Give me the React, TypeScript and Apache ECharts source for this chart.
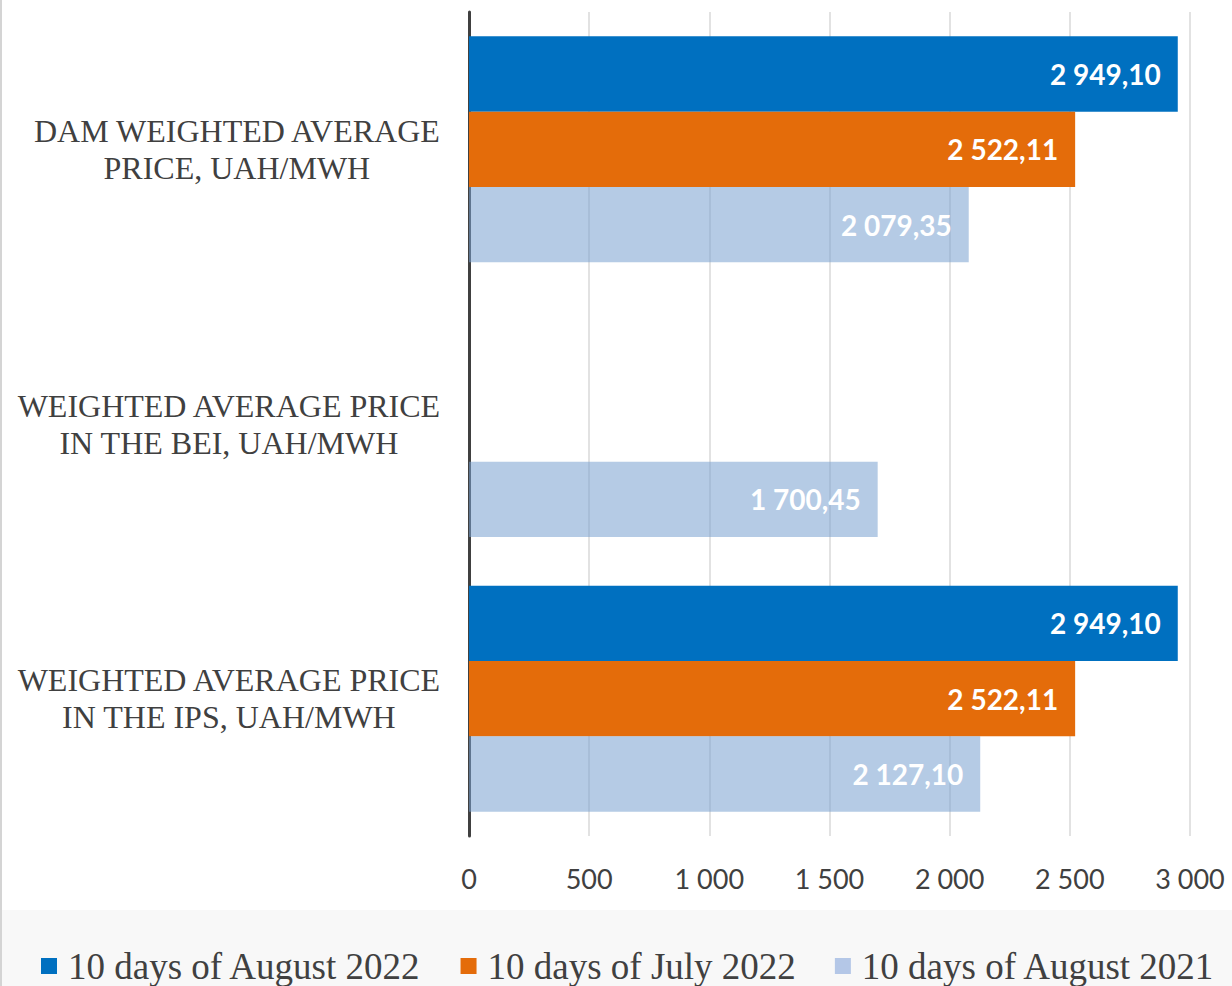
import React, { useEffect, useRef } from "react";
import * as echarts from "echarts";

const categories = [
  "DAM WEIGHTED AVERAGE\nPRICE, UAH/MWH",
  "WEIGHTED AVERAGE PRICE\nIN THE BEI, UAH/MWH",
  "WEIGHTED AVERAGE PRICE\nIN THE IPS, UAH/MWH",
];
const seriesNames = ["10 days of August 2022", "10 days of July 2022", "10 days of August 2021"];
const august2022 = [2949.1, null, 2949.1];
const july2022 = [2522.11, null, 2522.11];
const august2021 = [2079.35, 1700.45, 2127.1];
const xTicks = { min: 0, max: 3000, interval: 500 };

const colors = ["#0070c0", "#e46c0a", "rgba(120,160,208,0.55)"];
const legendColors = ["#0070c0", "#e46c0a", "#b4c7e7"];

function fmt(v: number, d: number) {
  const [i, f] = v.toFixed(d).split(".");
  const ii = i.replace(/\B(?=(\d{3})+(?!\d))/g, " ");
  return f ? ii + "," + f : ii;
}

export default function App() {
  const ref = useRef<HTMLDivElement>(null);
  useEffect(() => {
    document.body.style.margin = "0";
    const chart = echarts.init(ref.current!, null, { renderer: "svg" });
    const dataSets = [august2022, july2022, august2021];
    chart.setOption({
      animation: false,
      backgroundColor: "#ffffff",
      graphic: [
        { type: "rect", z: -10, shape: { x: 2, y: 910, width: 1230, height: 76 }, style: { fill: "#f8f8f8" } },
        { type: "rect", z: -10, shape: { x: 0, y: 0, width: 2, height: 986 }, style: { fill: "#d4d4d4" } },
      ],
      grid: { left: 469, right: 42, top: 12, bottom: 150, containLabel: false },
      legend: {
        left: 41,
        top: 947,
        padding: 0,
        itemWidth: 16,
        itemHeight: 16,
        itemGap: 39,
        icon: "rect",
        data: seriesNames.map((n, i) => ({ name: n, itemStyle: { color: legendColors[i] } })),
        textStyle: {
          fontFamily: "Liberation Serif",
          fontSize: 37,
          color: "#404040",
          lineHeight: 38,
          padding: [0, 0, 0, 6],
        },
      },
      xAxis: {
        type: "value",
        min: xTicks.min,
        max: xTicks.max,
        interval: xTicks.interval,
        axisLine: { show: false },
        axisTick: { show: false },
        splitLine: { show: true, lineStyle: { color: "#d9d9d9", width: 1.5 } },
        axisLabel: {
          margin: 29,
          fontFamily: "Lato",
          fontSize: 27,
          color: "#404040",
          formatter: (v: number) => fmt(v, 0),
        },
      },
      yAxis: {
        type: "category",
        inverse: true,
        data: categories,
        axisTick: { show: false },
        axisLine: { show: true, lineStyle: { color: "#404040", width: 3 } },
        axisLabel: {
          margin: 28,
          align: "right",
          fontFamily: "Liberation Serif",
          fontSize: 32,
          lineHeight: 37,
          color: "#404040",
          formatter: (v: string) =>
            v
              .split("\n")
              .map((l) => `{a|${l}}`)
              .join("\n"),
          rich: {
            a: {
              align: "center",
              fontFamily: "Liberation Serif",
              fontSize: 32,
              lineHeight: 37,
              color: "#404040",
            },
          },
        },
      },
      series: seriesNames.map((name, i) => ({
        name,
        type: "bar",
        data: dataSets[i],
        barGap: "0%",
        barCategoryGap: "17.7%",
        itemStyle: { color: colors[i] },
        label: {
          show: true,
          position: "insideRight",
          distance: 17,
          color: "#ffffff",
          fontFamily: "Lato",
          fontWeight: "bold",
          fontSize: 28,
          formatter: (p: any) => (p.value == null ? "" : fmt(p.value, 2)),
        },
      })),
    });
    return () => chart.dispose();
  }, []);
  return <div ref={ref} style={{ width: 1232, height: 986 }} />;
}
